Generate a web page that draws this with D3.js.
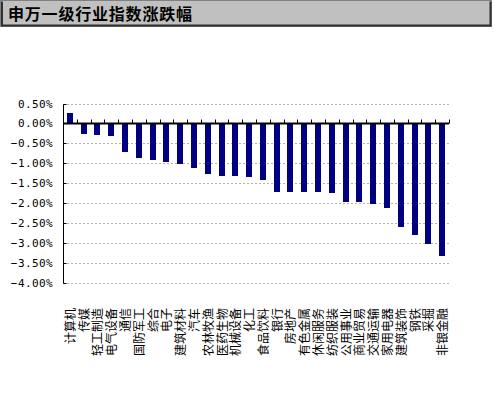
<!DOCTYPE html>
<html>
<head>
<meta charset="utf-8">
<script src="https://cdn.jsdelivr.net/npm/d3@7.9.0/dist/d3.min.js"></script>
<style>
  body { margin: 0; background: #fff; }
  svg { display: block; }
</style>
</head>
<body>
<svg id="chart" width="494" height="399"></svg>
<script>
const title = "申万一级行业指数涨跌幅";

const industries = ["计算机", "传媒", "轻工制造", "电气设备", "通信", "国防军工", "综合", "电子",
    "建筑材料", "汽车", "农林牧渔", "医药生物", "机械设备", "化工", "食品饮料", "银行",
    "房地产", "有色金属", "休闲服务", "纺织服装", "公用事业", "商业贸易", "交通运输",
    "家用电器", "建筑装饰", "钢铁", "采掘", "非银金融"];

// daily change, %
const changes = [0.26, -0.27, -0.29, -0.32, -0.72, -0.87, -0.93, -0.99,
    -1.02, -1.12, -1.29, -1.34, -1.34, -1.37, -1.44, -1.74,
    -1.74, -1.74, -1.74, -1.77, -1.99, -1.99, -2.04,
    -2.14, -2.62, -2.82, -3.04, -3.34];

const yTicks = [0.5, 0, -0.5, -1, -1.5, -2, -2.5, -3, -3.5, -4];

const svg = d3.select("#chart");

// title bar
svg.append("rect")
    .attr("x", 0.5).attr("y", 0.5)
    .attr("width", 491).attr("height", 26)
    .attr("fill", "#c0c0c0")
    .attr("stroke", "#808080");
svg.append("path")
    .attr("d", "M2,1.5V25.5H490.5V1.5")
    .attr("fill", "none")
    .attr("stroke", "#303030")
    .attr("stroke-width", 2);
svg.append("text")
    .attr("x", 8)
    .attr("y", 20)
    .style("font-family", "'Noto Sans CJK SC', sans-serif")
    .style("font-size", "16px")
    .style("font-weight", "bold")
    .style("letter-spacing", "0.8px")
    .text(title);

const plot = { left: 63, right: 449, top: 103.5, bottom: 282.5 };

const x = d3.scaleBand()
    .domain(industries)
    .range([plot.left, plot.right])
    .paddingInner(0.56)
    .paddingOuter(0.28);

const y = d3.scaleLinear()
    .domain([-4, 0.5])
    .range([plot.bottom, plot.top]);

// gridlines
svg.append("g")
    .selectAll("line")
    .data(yTicks.filter(d => d !== 0))
    .join("line")
    .attr("x1", plot.left).attr("x2", plot.right)
    .attr("y1", d => Math.round(y(d)) + 0.5)
    .attr("y2", d => Math.round(y(d)) + 0.5)
    .attr("stroke", "#b4b4b4")
    .attr("stroke-dasharray", "2,2");

// bars
svg.append("g")
    .selectAll("rect")
    .data(changes)
    .join("rect")
    .attr("x", (d, i) => Math.round(x(industries[i])))
    .attr("width", 6)
    .attr("y", d => Math.round(y(Math.max(0, d))))
    .attr("height", d => Math.round(Math.abs(y(d) - y(0))))
    .attr("fill", "#000080");

// y axis
const yAxis = svg.append("g")
    .attr("transform", `translate(${plot.left + 0.5},0)`)
    .call(d3.axisRight(y)
        .tickValues(yTicks)
        .tickSize(3)
        .tickFormat(d => ""));
yAxis.select(".domain").attr("d", `M0,${Math.round(plot.top) + 0.5}V${Math.round(plot.bottom) + 0.5}`).attr("stroke", "#000");
yAxis.selectAll(".tick").attr("transform", d => `translate(0,${Math.round(y(d)) + 0.5})`);
yAxis.selectAll(".tick line").attr("stroke", "#000");

svg.append("g")
    .selectAll("text")
    .data(yTicks)
    .join("text")
    .attr("x", 53)
    .attr("y", d => Math.round(y(d)) + 4)
    .attr("text-anchor", "end")
    .style("font-family", "'DejaVu Sans Mono', monospace")
    .style("font-size", "11px")
    .style("letter-spacing", "0.4px")
    .text(d => d3.format(".2f")(d) + "%");

// x axis at zero with upward ticks at band edges
const y0 = Math.round(y(0)) + 0.5;
svg.append("line")
    .attr("x1", plot.left).attr("x2", plot.right)
    .attr("y1", y0).attr("y2", y0)
    .attr("stroke", "#000")
    .attr("stroke-width", 2);
const step = x.step();
svg.append("g")
    .selectAll("line")
    .data(d3.range(industries.length + 1))
    .join("line")
    .attr("x1", i => Math.round(plot.left + i * step) + 0.5)
    .attr("x2", i => Math.round(plot.left + i * step) + 0.5)
    .attr("y1", y0 - 4)
    .attr("y2", y0)
    .attr("stroke", "#000");

// category labels, vertical
svg.append("g")
    .selectAll("text")
    .data(industries)
    .join("text")
    .attr("transform", d => `translate(${Math.round(x(d) + 3) + 5},308) rotate(-90)`)
    .attr("text-anchor", "end")
    .style("font-family", "'Noto Sans CJK SC', sans-serif")
    .style("font-size", "12px")
    .text(d => d);
</script>
</body>
</html>
